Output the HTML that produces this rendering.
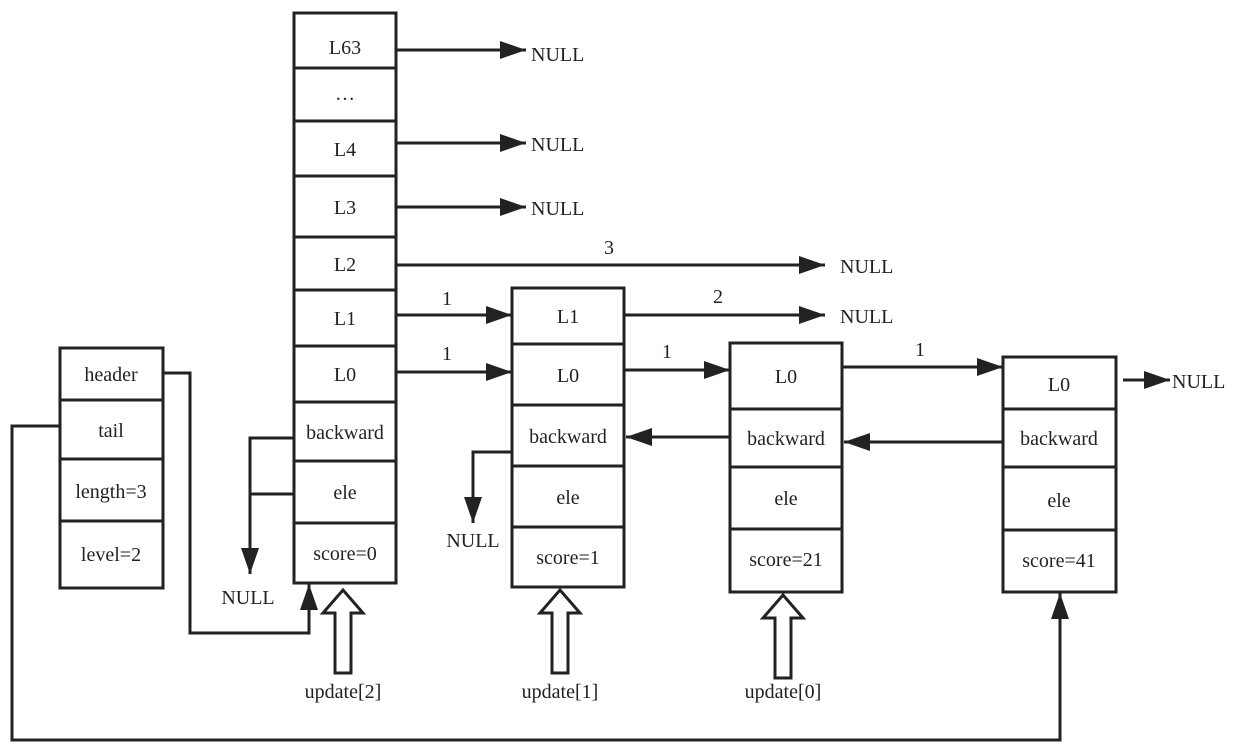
<!DOCTYPE html>
<html><head><meta charset="utf-8"><style>
html,body{margin:0;padding:0;background:#fff}
svg{display:block}
</style></head><body>
<svg width="1242" height="746" viewBox="0 0 1242 746" xmlns="http://www.w3.org/2000/svg" font-family="'Liberation Serif', 'DejaVu Serif', serif" font-size="20">
<defs>
<marker id="b" markerWidth="26" markerHeight="18" refX="26" refY="9" orient="auto" markerUnits="userSpaceOnUse" viewBox="0 0 26 18">
<path d="M0,0 L26,9 L0,18 z" fill="#222"/></marker>
</defs>
<g fill="none" stroke="#222" stroke-width="3">
<rect x="294" y="13" width="102" height="570"/>
<path d="M294 68H396M294 121H396M294 176H396M294 237H396M294 290H396M294 346H396M294 402H396M294 461H396M294 523H396"/>
<rect x="60" y="348" width="103" height="240"/>
<path d="M60 400H163M60 459H163M60 521H163"/>
<rect x="512" y="288" width="112" height="299"/>
<path d="M512 344H624M512 405H624M512 466H624M512 527H624"/>
<rect x="730" y="343" width="112" height="249"/>
<path d="M730 409H842M730 467H842M730 529H842"/>
<rect x="1003" y="357" width="113" height="235"/>
<path d="M1003 409H1116M1003 467H1116M1003 530H1116"/>
</g>
<g stroke="#222" stroke-width="3" fill="none">
<line x1="396" y1="50" x2="526" y2="50" marker-end="url(#b)"/>
<line x1="396" y1="143" x2="526" y2="143" marker-end="url(#b)"/>
<line x1="396" y1="207" x2="526" y2="207" marker-end="url(#b)"/>
<line x1="396" y1="265" x2="825" y2="265" marker-end="url(#b)"/>
<line x1="396" y1="315" x2="512" y2="315" marker-end="url(#b)"/>
<line x1="624" y1="315" x2="825" y2="315" marker-end="url(#b)"/>
<line x1="396" y1="372" x2="512" y2="372" marker-end="url(#b)"/>
<line x1="624" y1="370" x2="730" y2="370" marker-end="url(#b)"/>
<line x1="842" y1="367" x2="1003" y2="367" marker-end="url(#b)"/>
<line x1="1123" y1="380" x2="1170" y2="380" marker-end="url(#b)"/>
<line x1="730" y1="437" x2="626" y2="437" marker-end="url(#b)"/>
<line x1="1003" y1="442" x2="844" y2="442" marker-end="url(#b)"/>
<path d="M294 438H250V574" marker-end="url(#b)"/>
<path d="M294 494H250"/>
<path d="M512 452H473V523" marker-end="url(#b)"/>
<path d="M163 373H190V633H309V584" marker-end="url(#b)"/>
<path d="M60 426H12V740H1060V593" marker-end="url(#b)"/>
</g>
<g fill="#fff" stroke="#222" stroke-width="3">
<path d="M343 590 L363 613 L351 613 L351 673 L335 673 L335 613 L323 613 Z"/>
<path d="M560 590 L580 613 L568 613 L568 673 L552 673 L552 613 L540 613 Z"/>
<path d="M783 595 L803 618 L791 618 L791 678 L775 678 L775 618 L763 618 Z"/>
</g>
<g text-anchor="middle" fill="#222">
<text x="345" y="54">L63</text>
<text x="345" y="100">…</text>
<text x="345" y="156">L4</text>
<text x="345" y="214">L3</text>
<text x="345" y="271">L2</text>
<text x="345" y="325">L1</text>
<text x="345" y="381">L0</text>
<text x="345" y="439">backward</text>
<text x="345" y="499">ele</text>
<text x="345" y="560">score=0</text>
<text x="111" y="381">header</text>
<text x="111" y="437">tail</text>
<text x="111" y="498">length=3</text>
<text x="111" y="561">level=2</text>
<text x="568" y="323">L1</text>
<text x="568" y="382">L0</text>
<text x="568" y="443">backward</text>
<text x="568" y="504">ele</text>
<text x="568" y="564">score=1</text>
<text x="786" y="383">L0</text>
<text x="786" y="445">backward</text>
<text x="786" y="505">ele</text>
<text x="786" y="566">score=21</text>
<text x="1059" y="391">L0</text>
<text x="1059" y="445">backward</text>
<text x="1059" y="507">ele</text>
<text x="1059" y="567">score=41</text>
<text x="609" y="254">3</text>
<text x="447" y="305">1</text>
<text x="718" y="303">2</text>
<text x="447" y="360">1</text>
<text x="667" y="358">1</text>
<text x="920" y="356">1</text>
<text x="248" y="604">NULL</text>
<text x="473" y="547">NULL</text>
<text x="343" y="698">update[2]</text>
<text x="560" y="698">update[1]</text>
<text x="783" y="698">update[0]</text>
</g>
<g fill="#222">
<text x="531" y="61">NULL</text>
<text x="531" y="151">NULL</text>
<text x="531" y="215">NULL</text>
<text x="840" y="273">NULL</text>
<text x="840" y="323">NULL</text>
<text x="1172" y="388">NULL</text>
</g>
</svg>
</body></html>
